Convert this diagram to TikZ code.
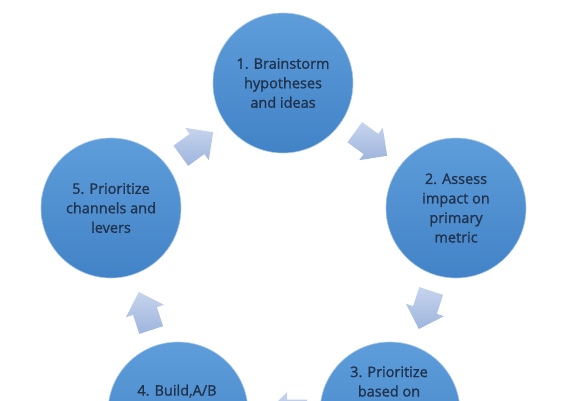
\documentclass[tikz,border=0pt]{standalone}
\usepackage{fontspec}
\setmainfont{Open Sans}
\newfontfamily\lblfont[FakeBold=1.2]{Open Sans}
\definecolor{circtop}{RGB}{94,157,218}
\definecolor{circbot}{RGB}{66,131,199}
\definecolor{circedge}{RGB}{170,200,235}
\definecolor{arrtop}{RGB}{198,212,237}
\definecolor{arrbot}{RGB}{158,181,221}
\definecolor{txt}{RGB}{32,50,76}
\newcommand\cyclearrow[4]{%
  \begin{scope}[shift={(#2,#3)}, rotate=#4]
    \path[arrowfill] (-20,-12.5) -- (0,-12.5) -- (0,-20) -- (20,0) -- (0,20) -- (0,12.5) -- (-20,12.5) -- cycle;
    \coordinate (#1) at (0,0);
  \end{scope}}
\begin{document}
\begin{tikzpicture}[x=1pt,y=-1pt,
  stage/.style={circle, minimum size=140pt, inner sep=0pt,
    top color=circtop, bottom color=circbot, draw=circedge, line width=0.6pt},
  lbl/.style={text=txt, align=center, font=\lblfont\fontsize{14.5}{19.5}\selectfont},
  arrowfill/.style={top color=arrtop, bottom color=arrbot, draw=none}
]
\useasboundingbox (0,0) rectangle (568,400);
\clip (0,0) rectangle (568,400);
\fill[white] (0,0) rectangle (568,400);
% circles
\node[stage] (s1) at (283,83) {};
\node[stage] (s2) at (456,208) {};
\node[stage] (s3) at (390,412) {};
\node[stage] (s4) at (178,412) {};
\node[stage] (s5) at (111,208) {};
% labels
\node[lbl] (t1) at (s1.center) {1. Brainstorm\\hypotheses\\and ideas};
\node[lbl] (t2) at (s2.center) {2. Assess\\impact on\\primary\\metric};
\node[lbl] (t5) at (s5.center) {5. Prioritize\\channels and\\levers};
\node[lbl] (t3) at (389,381.5) {3. Prioritize\\based on};
\node[lbl] (t4) at (177,391) {4. Build,A/B};
% arrows
\cyclearrow{a12}{371}{144}{-36}
\cyclearrow{a23}{425}{310}{-108}
\cyclearrow{a34}{287}{412}{180}
\cyclearrow{a45}{145}{311}{108}
\cyclearrow{a51}{197}{144}{36}
\end{tikzpicture}
\end{document}
